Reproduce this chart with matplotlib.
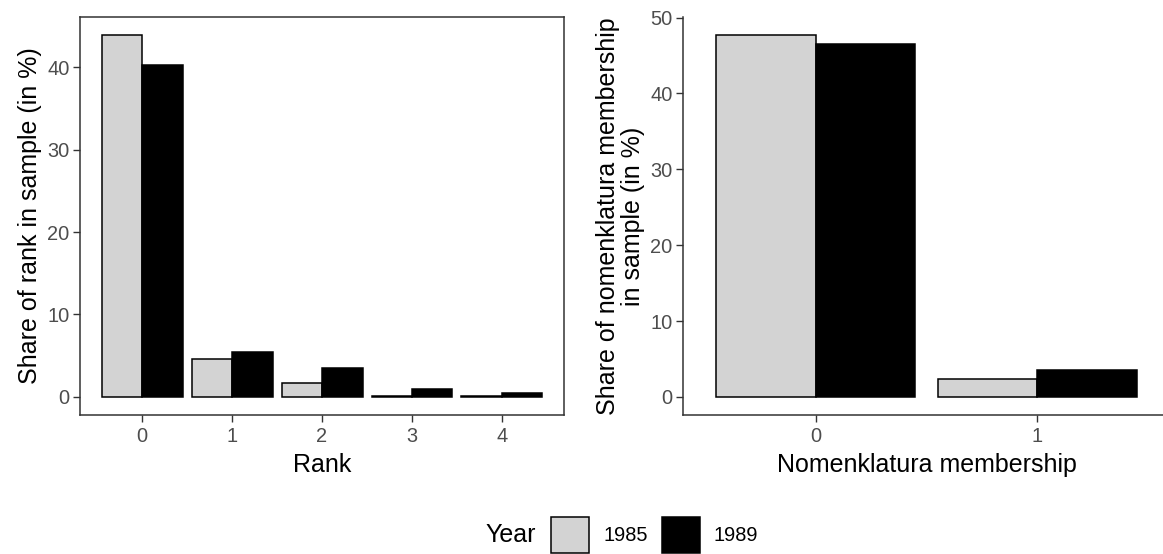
import matplotlib.pyplot as plt
from matplotlib.patches import Patch
import numpy as np

plt.rcParams['font.family'] = ['Liberation Sans', 'DejaVu Sans']

# shares in percent, by year
years = ['1985', '1989']
year_colors = ['#D3D3D3', 'black']

ranks = ['0', '1', '2', '3', '4']
rank_1985 = [43.9, 4.55, 1.7, 0.1, 0.05]
rank_1989 = [40.3, 5.4, 3.5, 0.9, 0.45]

nomen = ['0', '1']
nomen_1985 = [47.7, 2.4]
nomen_1989 = [46.5, 3.6]

tick_col = '#4D4D4D'
line_col = '#333333'
bar_w = 0.45
tick_fs = 14.4
title_fs = 18

fig = plt.figure(figsize=(11.63, 5.54), dpi=100)
ax1 = fig.add_axes([0.0688, 0.2509, 0.4162, 0.7185])
ax2 = fig.add_axes([0.5873, 0.2509, 0.4187, 0.7185])


def draw_bars(ax, cats, v85, v89):
    x = np.arange(len(cats))
    for vals, col, off in [(v85, year_colors[0], -bar_w / 2),
                           (v89, year_colors[1], bar_w / 2)]:
        ax.bar(x + off, vals, width=bar_w, color=col, edgecolor='black',
               linewidth=1.1)
    ax.set_xticks(x)
    ax.set_xticklabels(cats)
    top = max(max(v85), max(v89))
    ax.set_ylim(-0.05 * top, 1.05 * top)
    ax.tick_params(colors=line_col, labelcolor=tick_col, labelsize=tick_fs,
                   length=5, width=1.0, pad=2.5)
    ax.tick_params(axis='x', pad=3.5)
    for s in ax.spines.values():
        s.set_color(line_col)
        s.set_linewidth(1.1)


draw_bars(ax1, ranks, rank_1985, rank_1989)
ax1.set_xlim(-0.69, len(ranks) - 1 + 0.69)
ax1.set_yticks([0, 10, 20, 30, 40])
ax1.set_xlabel('Rank', fontsize=title_fs, labelpad=5)
ax1.set_ylabel('Share of rank in sample (in %)', fontsize=title_fs, labelpad=4)

draw_bars(ax2, nomen, nomen_1985, nomen_1989)
ax2.set_xlim(-0.6, len(nomen) - 1 + 0.6)
ax2.set_yticks([0, 10, 20, 30, 40, 50])
ax2.spines['top'].set_visible(False)
ax2.spines['right'].set_visible(False)
ax2.set_xlabel('Nomenklatura membership', fontsize=title_fs, labelpad=5)
ax2.set_ylabel('Share of nomenklatura membership\nin sample (in %)',
               fontsize=title_fs, labelpad=4, linespacing=1.05)

handles = [Patch(facecolor=c, edgecolor='black', linewidth=1.1) for c in year_colors]
fig.legend(handles, years, ncol=2, loc='center left',
           bbox_to_anchor=(0.4738, 0.034), frameon=False, fontsize=tick_fs,
           handlelength=1.9, handleheight=2.35, handletextpad=0.7,
           columnspacing=0.7, borderpad=0, borderaxespad=0)
fig.text(0.4609, 0.034, 'Year', fontsize=title_fs, ha='right', va='center')

fig.savefig('out.png', dpi=100)
